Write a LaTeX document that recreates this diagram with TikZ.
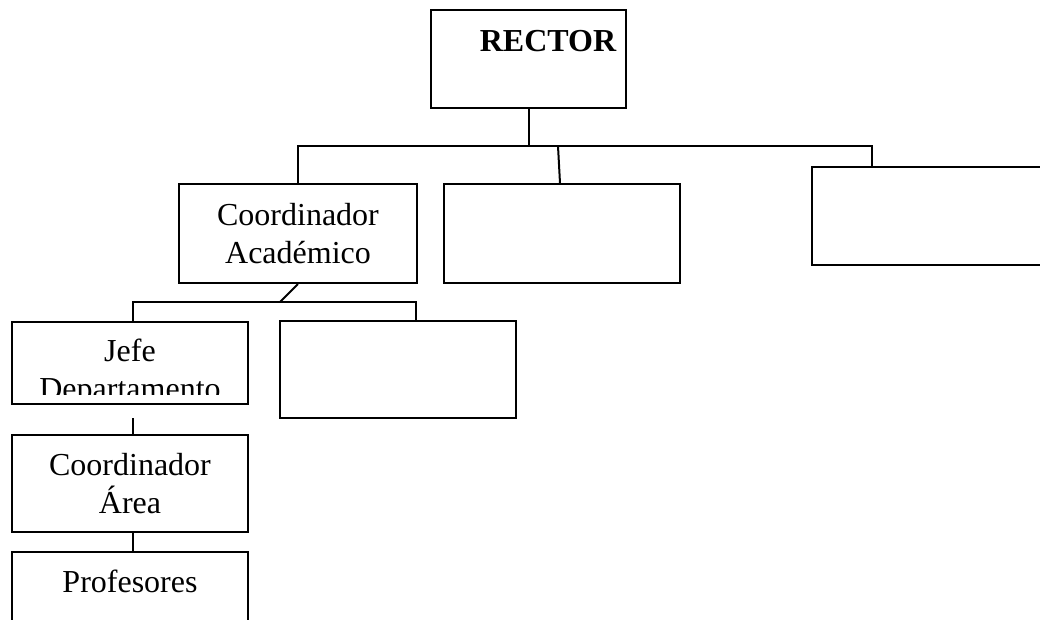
\documentclass[tikz,border=0pt]{standalone}
\usepackage{fontspec}
\setmainfont{Liberation Serif}

\begin{document}
\begin{tikzpicture}[
  x=0.75pt, y=-0.75pt,
  box/.style={draw, line width=1.5pt, inner sep=0pt, align=center,
              font=\fontsize{24}{28.5}\selectfont},
  txt/.style={inner sep=0pt, align=center, font=\fontsize{24}{28.5}\selectfont},
  link/.style={line width=1.5pt}
]
\useasboundingbox (0,0) rectangle (1040,619);
\clip (0,0) rectangle (1040,619);
\node[box, minimum width=146.25pt, minimum height=73.5pt] (rector) at (528.5,59) {};
\node[txt, font=\bfseries\fontsize{24}{28.5}\selectfont] (rectortxt) at (548,41.5) {RECTOR};
\node[box, minimum width=178.5pt, minimum height=74.25pt] (acad) at (298,233.5) {Coordinador\\Académico};
\node[box, minimum width=177pt, minimum height=74.25pt] (mid) at (562,233.5) {};
\node[box, minimum width=178.5pt, minimum height=73.5pt] (right) at (931,216) {};
\node[box, minimum width=177pt, minimum height=72.75pt] (low) at (398,369.5) {};
\node[box, minimum width=177pt, minimum height=61.5pt] (jefe) at (130,363) {};
\begin{scope}
  \clip (jefe.north west) rectangle (248,394);
  \node[txt] (jefetxt) at (130,372.5) {Jefe\\Departamento};
\end{scope}
\node[box, minimum width=177pt, minimum height=72.75pt] (area) at (130,483.5) {Coordinador\\Área};
\node[box, minimum width=177pt, minimum height=81pt] (prof) at (130,606) {};
\node[txt] (proftxt) at (130,581.5) {Profesores};
% bus below the rector
\coordinate (busR) at (872,146);
\coordinate (busM) at (558,146);
\draw[link] (rector.south) -- (rector.south |- busR);
\draw[link] (acad.north) |- (busR) -- (busR |- right.north);
\draw[link] (busM) -- ([xshift=-1.5pt]mid.north);
% bus below the academic coordinator
\coordinate (busA) at (280,302);
\coordinate (busAL) at (133,302);
\coordinate (busAR) at (416,302);
\draw[link] (acad.south) -- (busA);
\draw[link] (busAL |- jefe.north) -- (busAL) -- (busAR) -- (busAR |- low.north);
\coordinate (jefeend) at (133,418);
\draw[link] (jefeend) -- (jefeend |- area.north);
\draw[link] (jefeend |- area.south) -- (jefeend |- prof.north);
\end{tikzpicture}
\end{document}
